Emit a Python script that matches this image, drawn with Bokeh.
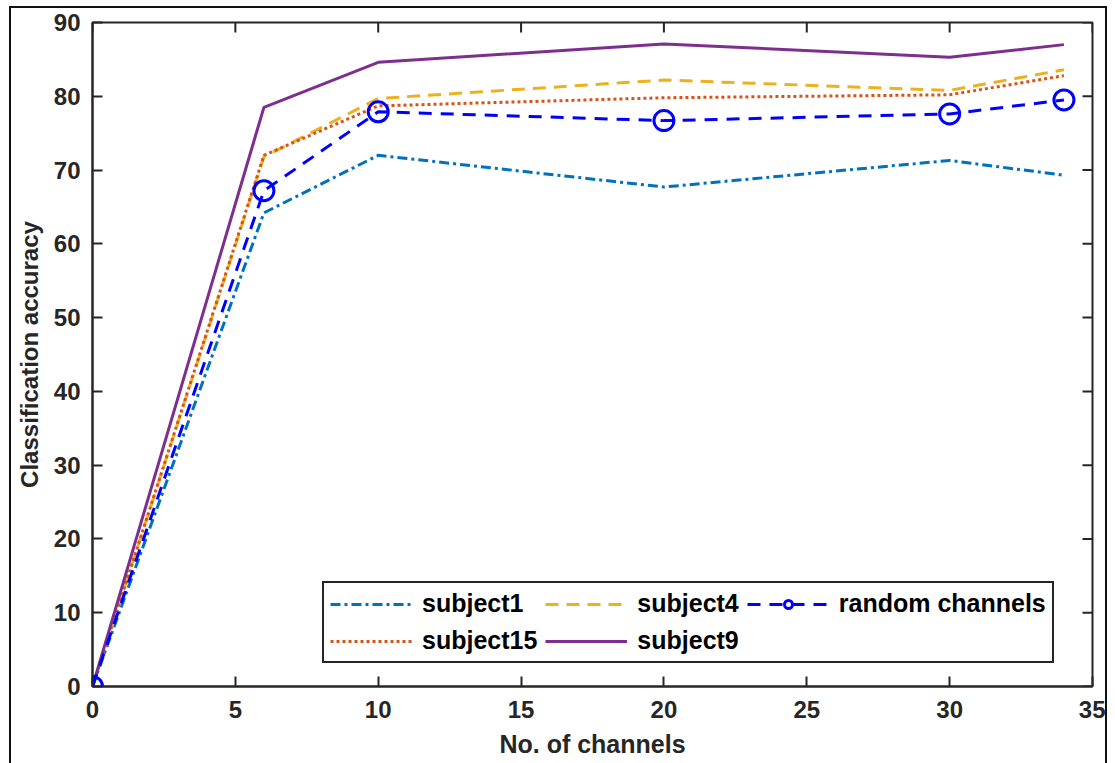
import math
from bokeh.plotting import figure
from bokeh.models import (Range1d, FixedTicker, Legend, LegendItem)
from bokeh.embed import file_html
from bokeh.resources import INLINE

channels = [0, 6, 10, 20, 30, 34]
subject1 = [0, 64.2, 72.0, 67.7, 71.3, 69.3]
subject4 = [0, 71.8, 79.7, 82.2, 80.8, 83.6]
subject15 = [0, 72.0, 78.7, 79.8, 80.2, 82.8]
subject9 = [0, 78.5, 84.6, 87.1, 85.3, 87.0]
random_channels = [0, 67.2, 77.9, 76.7, 77.6, 79.5]
x_ticks = [0, 5, 10, 15, 20, 25, 30, 35]
y_ticks = [0, 10, 20, 30, 40, 50, 60, 70, 80, 90]
X_MAX = 35
Y_MAX = 90

FONT = "Liberation Sans"
DARK = "#262626"

p = figure(width=1094, height=755, output_backend="svg", toolbar_location=None,
           x_range=Range1d(0, X_MAX), y_range=Range1d(0, Y_MAX),
           min_border_left=81, min_border_right=17, min_border_top=14, min_border_bottom=79,
           margin=(6, 0, 0, 9))
p.styles = {"border-left": "2px solid #111111", "border-top": "2px solid #111111",
            "border-right": "2px solid #111111", "box-sizing": "content-box"}
p.grid.visible = False
p.outline_line_color = DARK
p.outline_line_width = 2
p.outline_line_alpha = 1
p.background_fill_color = "white"
p.border_fill_color = "white"

for ax in [p.xaxis[0], p.yaxis[0]]:
    ax.axis_line_color = DARK
    ax.axis_line_width = 2
    ax.major_tick_line_color = DARK
    ax.major_tick_line_width = 2
    ax.major_tick_in = 10
    ax.major_tick_out = 0
    ax.minor_tick_line_color = None
    ax.major_label_text_font = FONT
    ax.major_label_text_font_style = "bold"
    ax.major_label_text_font_size = "24px"
    ax.major_label_text_color = DARK
    ax.axis_label_text_font = FONT
    ax.axis_label_text_font_style = "bold"
    ax.axis_label_text_color = DARK

p.xaxis.ticker = FixedTicker(ticks=x_ticks)
p.yaxis.ticker = FixedTicker(ticks=y_ticks)
p.xaxis.axis_label = "No. of channels"
p.yaxis.axis_label = "Classification accuracy"
p.xaxis.axis_label_text_font_size = "25px"
p.yaxis.axis_label_text_font_size = "24px"
p.xaxis.major_label_standoff = 14
p.yaxis.major_label_standoff = 12
p.xaxis.axis_label_standoff = 9
p.yaxis.axis_label_standoff = 8

# mirrored inward ticks on top and right
p.ray(x=x_ticks, y=[Y_MAX] * len(x_ticks), length=10, length_units="screen",
      angle=-math.pi / 2, line_color=DARK, line_width=2)
p.ray(x=[X_MAX] * len(y_ticks), y=y_ticks, length=10, length_units="screen",
      angle=math.pi, line_color=DARK, line_width=2)

r1 = p.line(channels, subject1, line_color="#0072BD", line_width=3, line_dash="10 4 3 4")
r4 = p.line(channels, subject4, line_color="#EDB120", line_width=3, line_dash="13 8")
r15 = p.line(channels, subject15, line_color="#D95319", line_width=3, line_dash="3 3")
r9 = p.line(channels, subject9, line_color="#7E2F8E", line_width=3)
rr = p.line(channels, random_channels, line_color="#0000FF", line_width=3, line_dash="13 9")
rs = p.scatter(channels, random_channels, marker="circle", size=20, fill_color=None,
               line_color="#0000FF", line_width=3)

legend = Legend(items=[
    LegendItem(label="subject1", renderers=[r1]),
    LegendItem(label="subject4", renderers=[r4]),
    LegendItem(label="random channels", renderers=[rr, rs]),
    LegendItem(label="subject15", renderers=[r15]),
    LegendItem(label="subject9", renderers=[r9]),
], orientation="horizontal", ncols=3)
legend.location = (230, 23)
legend.label_text_font = FONT
legend.label_text_font_style = "bold"
legend.label_text_font_size = "25px"
legend.label_text_color = "black"
legend.glyph_width = 82
legend.glyph_height = 20
legend.label_height = 20
legend.label_standoff = 10
legend.spacing = 8
legend.padding = 6
legend.margin = 0
legend.border_line_color = DARK
legend.border_line_width = 2
legend.border_line_alpha = 1
legend.background_fill_alpha = 1
p.add_layout(legend, "center")

open("out.html", "w").write(file_html(p, INLINE))
